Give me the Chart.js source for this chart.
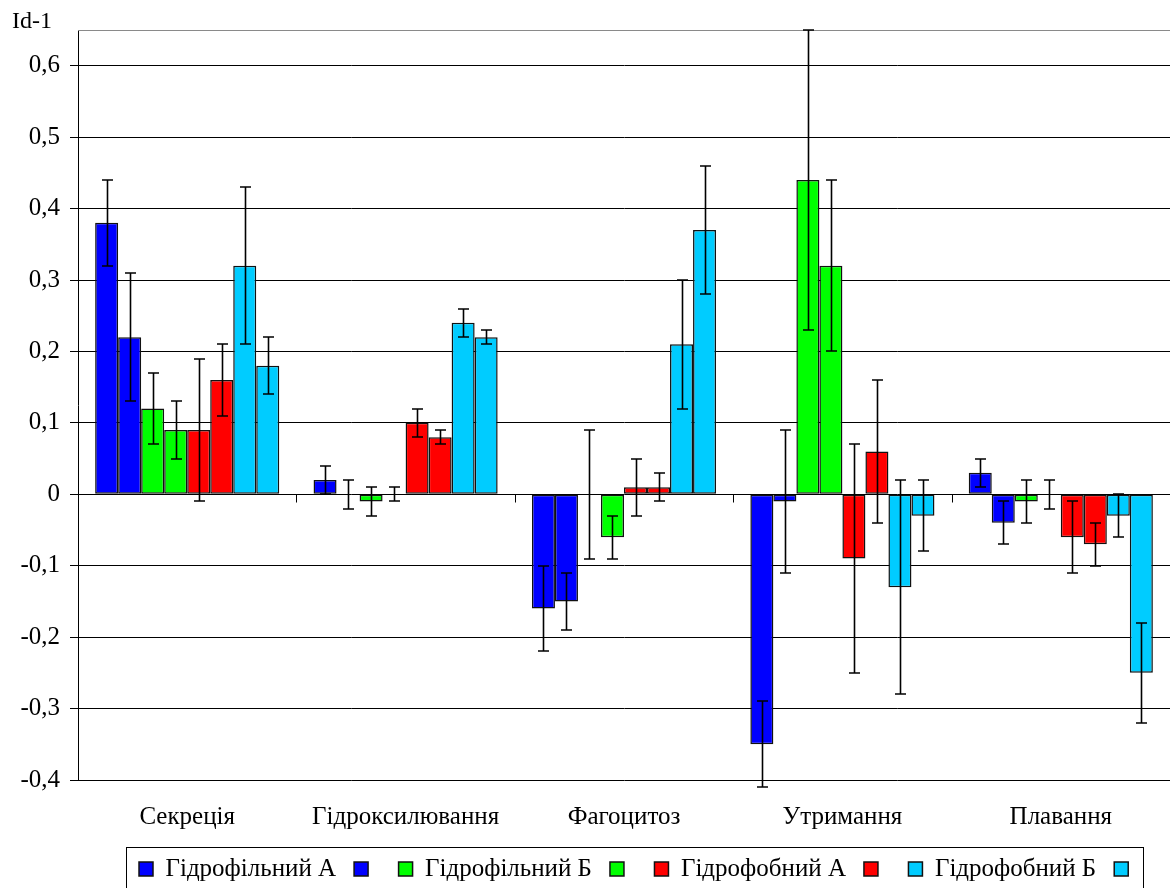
<!DOCTYPE html>
<html>
<head>
<meta charset="utf-8">
<script src="https://cdn.jsdelivr.net/npm/chart.js@4.4.0/dist/chart.umd.min.js"></script>
<style>
  body { margin: 0; background: #fff; }
  #wrap { width: 1170px; height: 888px; }
</style>
</head>
<body>
<div id="wrap"><canvas id="chart" width="1170" height="888"></canvas></div>
<script>
const categories = ["Секреція", "Гідроксилювання", "Фагоцитоз", "Утримання", "Плавання"];

// Id-1 values, two bars per group
const philA  = [0.38, 0.02, -0.16, -0.35, 0.03];
const philA2 = [0.22, 0, -0.15, -0.01, -0.04];
const philB  = [0.12, -0.01, 0, 0.44, -0.01];
const philB2 = [0.09, 0, -0.06, 0.32, 0];
const phobA  = [0.09, 0.10, 0.01, -0.09, -0.06];
const phobA2 = [0.16, 0.08, 0.01, 0.06, -0.07];
const phobB  = [0.32, 0.24, 0.21, -0.13, -0.03];
const phobB2 = [0.18, 0.22, 0.37, -0.03, -0.25];

// +/- error for each bar
const philAErr  = [0.06, 0.02, 0.06, 0.06, 0.02];
const philA2Err = [0.09, 0.02, 0.04, 0.10, 0.03];
const philBErr  = [0.05, 0.02, 0.09, 0.21, 0.03];
const philB2Err = [0.04, 0.01, 0.03, 0.12, 0.02];
const phobAErr  = [0.10, 0.02, 0.04, 0.16, 0.05];
const phobA2Err = [0.05, 0.01, 0.02, 0.10, 0.03];
const phobBErr  = [0.11, 0.02, 0.09, 0.15, 0.03];
const phobB2Err = [0.04, 0.01, 0.09, 0.05, 0.07];

const yMin = -0.4;
const yMax = 0.65;
const yStep = 0.1;
const yTitle = "Id-1";

const BLUE = "#0000ff", GREEN = "#00ff00", RED = "#ff0000", CYAN = "#00ccff";

function series(label, data, err, color) {
    return {
        label: label,
        data: data,
        err: err,
        backgroundColor: color,
        borderColor: "#111",
        borderWidth: 1.5,
        borderSkipped: false,
        barPercentage: 1,
        categoryPercentage: 0.843
    };
}

Chart.defaults.font.family = "'Liberation Serif', 'Times New Roman', serif";
Chart.defaults.color = "#000";

const LEGEND_PAD = 18;
const LEGEND_FONT = 25;

// error bars on top of every bar
const errorBars = {
    id: "errorBars",
    afterDatasetsDraw(chart) {
        const ctx = chart.ctx;
        const y = chart.scales.y;
        ctx.save();
        ctx.strokeStyle = "#000";
        ctx.lineWidth = 1.6;
        chart.data.datasets.forEach((ds, i) => {
            const meta = chart.getDatasetMeta(i);
            meta.data.forEach((bar, j) => {
                const v = ds.data[j], e = ds.err[j];
                const top = Math.round(y.getPixelForValue(v + e));
                const bot = Math.round(y.getPixelForValue(v - e));
                const x = Math.round(bar.x) + 0.5;
                ctx.beginPath();
                ctx.moveTo(x, top);
                ctx.lineTo(x, bot);
                ctx.moveTo(x - 5.5, top);
                ctx.lineTo(x + 5.5, top);
                ctx.moveTo(x - 5.5, bot);
                ctx.lineTo(x + 5.5, bot);
                ctx.stroke();
            });
        });
        ctx.restore();
    }
};

// frame top line, category ticks on the zero line, axis title, legend frame
const decorations = {
    id: "decorations",
    afterLayout(chart) {
        const lg = chart.legend;
        lg.left = 139 - LEGEND_PAD;
        lg.top = 869 - LEGEND_PAD - LEGEND_FONT / 2;
    },
    beforeDatasetsDraw(chart) {
        const ctx = chart.ctx;
        const area = chart.chartArea;
        const x = chart.scales.x, y = chart.scales.y;
        ctx.save();
        ctx.strokeStyle = "#8a8a8a";
        ctx.lineWidth = 1;
        ctx.beginPath();
        ctx.moveTo(area.left, area.top + 0.5);
        ctx.lineTo(area.right, area.top + 0.5);
        ctx.stroke();

        const zero = Math.round(y.getPixelForValue(0)) + 0.5;
        const step = (area.right - area.left) / categories.length;
        ctx.strokeStyle = "#000";
        ctx.beginPath();
        for (let i = 0; i < categories.length; i++) {
            const px = Math.round(x.getPixelForValue(i) - step / 2) + 0.5;
            ctx.moveTo(px, zero);
            ctx.lineTo(px, zero + 8);
        }
        ctx.stroke();
        ctx.restore();
    },
    afterDraw(chart) {
        const ctx = chart.ctx;
        ctx.save();
        ctx.fillStyle = "#000";
        ctx.font = "24px 'Liberation Serif', 'Times New Roman', serif";
        ctx.textBaseline = "alphabetic";
        ctx.fillText(yTitle, 12, 28);

        const boxes = chart.legend.legendHitBoxes;
        if (boxes && boxes.length) {
            const first = boxes[0], last = boxes[boxes.length - 1];
            const left = Math.round(first.left - 13) + 0.5;
            const right = Math.round(last.left + 14 + 15) + 0.5;
            ctx.strokeStyle = "#000";
            ctx.lineWidth = 1;
            ctx.strokeRect(left, 847.5, right - left, 60);
        }
        ctx.restore();
    }
};

new Chart(document.getElementById("chart"), {
    type: "bar",
    data: {
        labels: categories,
        datasets: [
            series("Гідрофільний А", philA, philAErr, BLUE),
            series("", philA2, philA2Err, BLUE),
            series("Гідрофільний Б", philB, philBErr, GREEN),
            series("", philB2, philB2Err, GREEN),
            series("Гідрофобний А", phobA, phobAErr, RED),
            series("", phobA2, phobA2Err, RED),
            series("Гідрофобний Б", phobB, phobBErr, CYAN),
            series("", phobB2, phobB2Err, CYAN)
        ]
    },
    options: {
        responsive: false,
        animation: false,
        layout: { padding: { top: 30, right: 0, left: 0, bottom: 0 } },
        plugins: {
            tooltip: { enabled: false },
            legend: {
                position: "bottom",
                align: "start",
                maxHeight: 40,
                labels: {
                    boxWidth: 14,
                    boxHeight: 14,
                    padding: LEGEND_PAD,
                    color: "#000",
                    font: { size: LEGEND_FONT }
                }
            }
        },
        scales: {
            x: {
                grid: { display: false, drawTicks: false },
                border: { display: false },
                ticks: { padding: 22, font: { size: 25 }, color: "#000" },
                afterFit(scale) { scale.height = 68; }
            },
            y: {
                min: yMin,
                max: yMax,
                ticks: {
                    stepSize: yStep,
                    padding: 10,
                    font: { size: 25 },
                    color: "#000",
                    callback: (v) => (Math.abs(v) < 1e-9 ? "0" : v.toFixed(1).replace(".", ","))
                },
                afterBuildTicks(scale) {
                    scale.ticks = scale.ticks.filter(t => Math.abs(t.value * 10 - Math.round(t.value * 10)) < 1e-6);
                },
                grid: { color: "#000", lineWidth: 1, tickLength: 8, tickColor: "#000" },
                border: { color: "#000", width: 1 },
                afterFit(scale) { scale.width = 78; }
            }
        }
    },
    plugins: [errorBars, decorations]
});
</script>
</body>
</html>
